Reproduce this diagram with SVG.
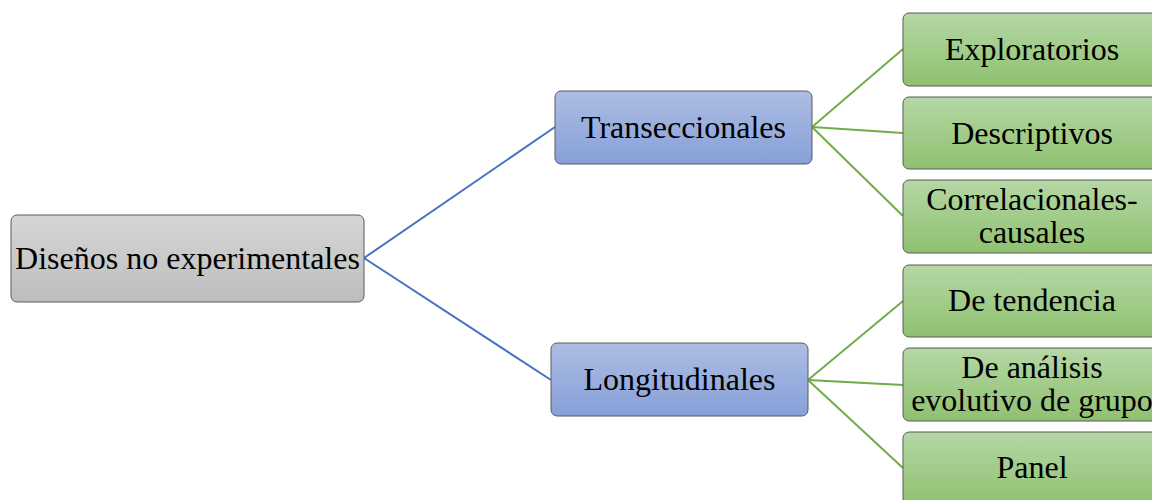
<svg xmlns="http://www.w3.org/2000/svg" width="1152" height="500" viewBox="0 0 1152 500">
<defs>
<linearGradient id="gGray" x1="0" y1="0" x2="0" y2="1"><stop offset="0" stop-color="#d6d6d6"/><stop offset="1" stop-color="#bdbdbd"/></linearGradient>
<linearGradient id="gBlue" x1="0" y1="0" x2="0" y2="1"><stop offset="0" stop-color="#adbde3"/><stop offset="1" stop-color="#87a0d8"/></linearGradient>
<linearGradient id="gGreen" x1="0" y1="0" x2="0" y2="1"><stop offset="0" stop-color="#b5d7a5"/><stop offset="1" stop-color="#8fc170"/></linearGradient>
</defs>
<style>
.box{stroke:#5a5a5a;stroke-width:1}
.gray{fill:url(#gGray)}
.blue{fill:url(#gBlue)}
.green{fill:url(#gGreen)}
.t{font-family:"Liberation Serif","Times New Roman",serif;font-size:32px;fill:#000;text-anchor:middle}
.cb{stroke:#4472c4;stroke-width:2;fill:none}
.cg{stroke:#70ad47;stroke-width:2;fill:none}
</style>
<g id="connectors">
<line class="cb" x1="364" y1="258" x2="555" y2="127"/>
<line class="cb" x1="364" y1="258" x2="551" y2="380"/>
<line class="cg" x1="812" y1="127" x2="903" y2="49"/>
<line class="cg" x1="812" y1="127" x2="903" y2="133"/>
<line class="cg" x1="812" y1="127" x2="903" y2="216"/>
<line class="cg" x1="808" y1="380" x2="903" y2="301"/>
<line class="cg" x1="808" y1="380" x2="903" y2="385"/>
<line class="cg" x1="808" y1="380" x2="903" y2="468"/>
</g>
<g id="root"><rect class="box gray" x="11" y="215" width="353" height="87" rx="6"/><text class="t" x="187.5" y="269">Diseños no experimentales</text></g>
<g id="transeccionales"><rect class="box blue" x="555" y="91" width="257" height="73" rx="6"/><text class="t" x="683.5" y="138">Transeccionales</text></g>
<g id="longitudinales"><rect class="box blue" x="551" y="343" width="257" height="73" rx="6"/><text class="t" x="679.5" y="390">Longitudinales</text></g>
<g id="exploratorios"><rect class="box green" x="903" y="13" width="258" height="73" rx="6"/><text class="t" x="1032" y="60">Exploratorios</text></g>
<g id="descriptivos"><rect class="box green" x="903" y="97" width="258" height="72" rx="6"/><text class="t" x="1032" y="144">Descriptivos</text></g>
<g id="correlacionales"><rect class="box green" x="903" y="180" width="258" height="73" rx="6"/><text class="t" x="1032" y="210">Correlacionales-</text><text class="t" x="1032" y="243">causales</text></g>
<g id="tendencia"><rect class="box green" x="903" y="265" width="258" height="72" rx="6"/><text class="t" x="1032" y="311">De tendencia</text></g>
<g id="analisis"><rect class="box green" x="903" y="348" width="258" height="73" rx="6"/><text class="t" x="1032" y="378">De análisis</text><text class="t" x="1032" y="411">evolutivo de grupo</text></g>
<g id="panel"><rect class="box green" x="903" y="432" width="258" height="73" rx="6"/><text class="t" x="1032" y="478">Panel</text></g>
</svg>
